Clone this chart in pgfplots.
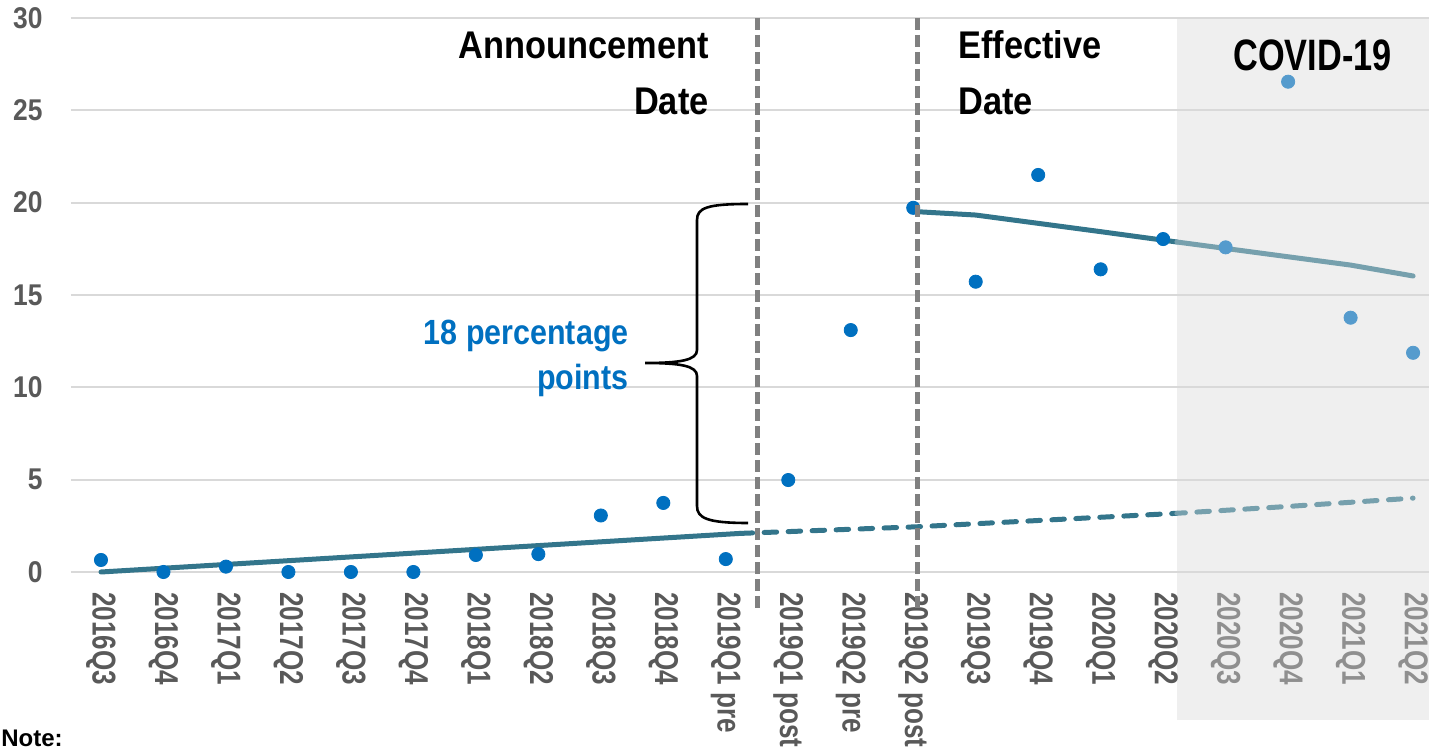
\documentclass[border=0pt]{standalone}
\usepackage{fontspec}
\setmainfont{Liberation Sans}
\newfontfamily\xtf{Liberation Sans}[FakeStretch=0.79]
\newfontfamily\ytf{Liberation Sans}[FakeStretch=0.88]
\newfontfamily\bigf{Liberation Sans}[FakeStretch=0.89]
\newfontfamily\covf{Liberation Sans}[FakeStretch=0.78]
\newfontfamily\bluef{Liberation Sans}[FakeStretch=0.87]
\usepackage{pgfplots}
\pgfplotsset{compat=1.18}
\definecolor{dotdark}{HTML}{0070C0}
\definecolor{dotlight}{HTML}{559BCD}
\definecolor{linedark}{HTML}{33758B}
\definecolor{linelight}{HTML}{76A0AD}
\definecolor{covidbg}{HTML}{EFEFEF}
\definecolor{gridc}{HTML}{D9D9D9}
\definecolor{labgray}{HTML}{595959}
\definecolor{lablight}{HTML}{8F8F8F}
\definecolor{vgray}{HTML}{808080}
\begin{document}
\begin{tikzpicture}
\begin{axis}[
  set layers,
  at={(0,0)}, anchor=south west,
  scale only axis, width=679pt, height=277pt,
  xmin=-0.48, xmax=21.255, ymin=0, ymax=30,
  clip=false,
  axis line style={draw=none},
  major tick length=0pt,
  ytick={0,5,...,30},
  ymajorgrids,
  grid style={color=gridc, line width=1pt},
  xtick={0,...,21},
  xticklabels={2016Q3,2016Q4,2017Q1,2017Q2,2017Q3,2017Q4,2018Q1,2018Q2,2018Q3,2018Q4,2019Q1 pre,2019Q1 post,2019Q2 pre,2019Q2 post,2019Q3,2019Q4,2020Q1,2020Q2,\textcolor{lablight}{2020Q3},\textcolor{lablight}{2020Q4},\textcolor{lablight}{2021Q1},\textcolor{lablight}{2021Q2}},
  xticklabel style={rotate=-90, anchor=west, inner sep=0pt, text=labgray, font=\xtf\bfseries\fontsize{16.5}{18}\selectfont},
  xticklabel shift=10pt,
  yticklabel style={anchor=east, inner sep=0pt, text=labgray, font=\ytf\bfseries\fontsize{15}{17}\selectfont, /pgf/number format/assume math mode=true},
  yticklabel shift=14pt,
]
\begin{pgfonlayer}{axis background}
\fill[covidbg] (axis cs:17.22,-8.0) rectangle (axis cs:21.255,30);
\end{pgfonlayer}
% pre-trend
\addplot[linedark, line width=2.5pt, line cap=round] coordinates {(0,0) (10.23,2.09)};
\addplot[linedark, line width=2.5pt, line cap=round, dash pattern=on 6.25pt off 5.75pt] coordinates {(10.23,2.09) (13.07,2.45) (17,3.14) (17.22,3.18)};
\addplot[linelight, line width=2.5pt, line cap=round, dash pattern=on 6.25pt off 5.75pt, dash phase=2pt] coordinates {(17.22,3.18) (19,3.55) (21,4.0)};
% post-trend
\addplot[linedark, line width=2.5pt, line cap=round] coordinates {(13.07,19.51) (14,19.33) (15,18.88) (16,18.43) (17,17.97) (17.22,17.87)};
\addplot[linelight, line width=2.5pt, line cap=round] coordinates {(17.22,17.87) (18,17.52) (19,17.07) (20,16.62) (21,16.03)};
% dots
\addplot[only marks, mark=*, mark size=3.3pt, color=dotdark] coordinates {
(0,0.65) (1,0) (2,0.29) (3,0) (4,0) (5,0) (6,0.92) (7,0.97) (8,3.06) (9,3.74)
(10,0.7) (11,4.98) (12,13.1) (13,19.72) (14,15.72) (15,21.5) (16,16.39) (17,18.03)};
\addplot[only marks, mark=*, mark size=3.3pt, color=dotlight] coordinates {
(18,17.58) (19,26.55) (20,13.77) (21,11.87)};
\begin{pgfonlayer}{axis foreground}
\draw[vgray, line width=2.4pt, dash pattern=on 6pt off 2.5pt] (axis cs:10.51,30) -- (axis cs:10.51,-2.2);
\draw[vgray, line width=2.4pt, dash pattern=on 6pt off 2.5pt] (axis cs:13.07,30) -- (axis cs:13.07,-2.2);
\end{pgfonlayer}
\end{axis}
% annotations (pt coordinates, axis south west at origin)
\node[anchor=base east, inner sep=0pt, font=\bigf\bfseries\fontsize{19.3}{22}\selectfont] at (319pt,256.5pt) {Announcement};
\node[anchor=base east, inner sep=0pt, font=\bigf\bfseries\fontsize{19.3}{22}\selectfont] at (319pt,228.5pt) {Date};
\node[anchor=base west, inner sep=0pt, font=\bigf\bfseries\fontsize{19.3}{22}\selectfont] at (443.5pt,256.5pt) {Effective};
\node[anchor=base west, inner sep=0pt, font=\bigf\bfseries\fontsize{19.3}{22}\selectfont] at (443.5pt,228.5pt) {Date};
\node[anchor=base west, inner sep=0pt, font=\covf\bfseries\fontsize{22}{24}\selectfont] at (581pt,250.5pt) {COVID-19};
\node[anchor=base east, inner sep=0pt, text=dotdark, font=\bluef\bfseries\fontsize{17.5}{20}\selectfont] at (279pt,113.5pt) {18 percentage};
\node[anchor=base east, inner sep=0pt, text=dotdark, font=\bluef\bfseries\fontsize{17.5}{20}\selectfont] at (279pt,91pt) {points};
\draw[black, line width=1.3pt] (338.5pt,184pt) .. controls (318pt,184pt) and (313pt,182pt) .. (313pt,176pt)
  -- (313pt,111pt) .. controls (313pt,106pt) and (305pt,104.5pt) .. (287pt,104.5pt)
  .. controls (305pt,104.5pt) and (313pt,103pt) .. (313pt,98pt)
  -- (313pt,33pt) .. controls (313pt,27pt) and (318pt,24.5pt) .. (338.5pt,24.5pt);
\node[anchor=base west, inner sep=0pt, font=\bfseries\fontsize{12}{14}\selectfont] at (-35pt,-87.3pt) {Note:};
\pgfresetboundingbox
\useasboundingbox (-35.5pt,-88.5pt) rectangle (679pt,286pt);
\end{tikzpicture}
\end{document}
